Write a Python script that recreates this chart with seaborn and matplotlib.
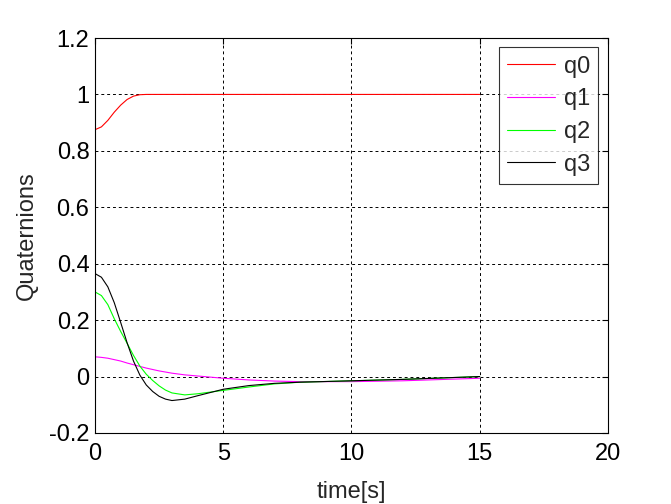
import pandas as pd
import matplotlib
matplotlib.use("Agg")
import matplotlib.pyplot as plt
import seaborn as sns

# datos
t = [0, 0.25, 0.5, 0.75, 1.0, 1.25, 1.5, 1.75, 2.0, 2.25, 2.5, 2.75, 3.0, 3.5, 4.0,
     5.0, 6.0, 7.0, 8.0, 10.0, 12.0, 15.0]
q0 = [0.875, 0.885, 0.908, 0.937, 0.962, 0.982, 0.994, 0.999, 1.0, 1.0, 1.0, 1.0, 1.0, 1.0, 1.0,
      1.0, 1.0, 1.0, 1.0, 1.0, 1.0, 1.0]
q1 = [0.07, 0.068, 0.065, 0.06, 0.055, 0.048, 0.042, 0.036, 0.03, 0.025, 0.02, 0.016, 0.012, 0.006, 0.002,
      -0.006, -0.012, -0.016, -0.018, -0.018, -0.015, -0.006]
q2 = [0.30, 0.287, 0.255, 0.205, 0.16, 0.118, 0.075, 0.037, 0.008, -0.014, -0.033, -0.048, -0.058, -0.065, -0.061,
      -0.049, -0.037, -0.026, -0.02, -0.015, -0.01, 0.0]
q3 = [0.365, 0.352, 0.318, 0.262, 0.192, 0.12, 0.055, 0.005, -0.03, -0.053, -0.07, -0.08, -0.085, -0.08, -0.068,
      -0.045, -0.032, -0.024, -0.02, -0.015, -0.01, 0.0]
series = ['q0', 'q1', 'q2', 'q3']
colores = {'q0': '#ff0000', 'q1': '#ff00ff', 'q2': '#00ff00', 'q3': '#000000'}

# formato largo para seaborn
df = pd.concat([pd.DataFrame({'time': t, 'value': v, 'serie': s})
                for s, v in zip(series, [q0, q1, q2, q3])], ignore_index=True)

sns.set_style("white")
plt.rcParams['font.family'] = ['Liberation Sans', 'DejaVu Sans']

fig = plt.figure(figsize=(6.71, 5.04), dpi=100)
ax = fig.add_axes([0.1416, 0.1409, 0.7644, 0.7837])
sns.lineplot(data=df, x='time', y='value', hue='serie', palette=colores,
             linewidth=0.8, ax=ax, estimator=None, sort=False)

ax.set_xlim(0, 20)
ax.set_ylim(-0.2, 1.2)
ax.set_xticks([0, 5, 10, 15, 20])
ax.set_xticklabels(['0', '5', '10', '15', '20'])
ax.set_yticks([-0.2, 0, 0.2, 0.4, 0.6, 0.8, 1.0, 1.2])
ax.set_yticklabels(['-0.2', '0', '0.2', '0.4', '0.6', '0.8', '1', '1.2'])
ax.grid(True, color='black', linestyle=(0, (3, 3)), linewidth=0.7)
ax.tick_params(direction='in', length=4, width=0.8, labelsize=17,
               top=True, right=True, colors='black', pad=7)
ax.tick_params(axis='y', pad=4)
for sp in ax.spines.values():
    sp.set_color('black')
    sp.set_linewidth(0.8)

ax.set_xlabel('time[s]', fontsize=17, labelpad=12)
ax.set_ylabel('Quaternions', fontsize=17, labelpad=8)

leg = ax.legend(loc='upper right', fontsize=17, frameon=True, fancybox=False,
                edgecolor='black', handlelength=2.0, labelspacing=0.45,
                borderaxespad=0.4, handletextpad=0.4, borderpad=0.35)
leg.get_frame().set_linewidth(0.8)
leg.set_title(None)

fig.savefig('out.png', dpi=100, facecolor='white')
